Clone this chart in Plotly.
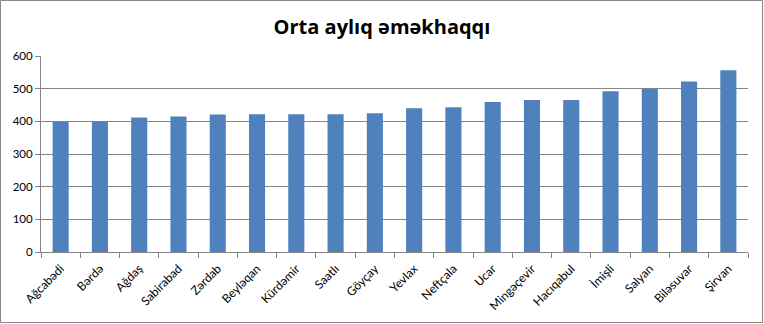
import plotly.graph_objects as go

categories = ["Ağcabədi", "Bərdə", "Ağdaş", "Sabirabad", "Zərdab", "Beyləqan",
              "Kürdəmir", "Saatlı", "Göyçay", "Yevlax", "Neftçala", "Ucar",
              "Mingəçevir", "Hacıqabul", "İmişli", "Salyan", "Biləsuvar", "Şirvan"]
values = [399, 400, 412, 415, 421, 422, 422, 422, 425, 440, 443, 459,
          465, 465, 492, 500, 522, 556]
y_ticks = [0, 100, 200, 300, 400, 500, 600]
title_text = "Orta aylıq əməkhaqqı"

W, H = 764, 324
ml, mr, mt, mb = 41, 16, 56, 72
pw, ph = W - ml - mr, H - mt - mb

fig = go.Figure(go.Bar(x=categories, y=values, marker=dict(color="#4F81BD", line=dict(width=0)),
                       width=0.41))

fig.update_layout(
    width=W, height=H,
    margin=dict(l=ml, r=mr, t=mt, b=mb),
    paper_bgcolor="white", plot_bgcolor="white",
    title=dict(text=f"<b>{title_text}</b>", x=0.5, xanchor="center", y=1 - 27 / H, yanchor="middle",
               font=dict(family="Open Sans", size=20, color="black")),
    showlegend=False,
    font=dict(family="Lato", size=10, color="black"),
    shapes=[dict(type="rect", xref="paper", yref="paper",
                 x0=-(ml - 0.5) / pw, x1=1 + (mr - 1.5) / pw,
                 y0=-(mb - 1.5) / ph, y1=1 + (mt - 0.5) / ph,
                 line=dict(color="#868686", width=1), layer="below")],
)
fig.update_xaxes(showline=True, linecolor="#868686", linewidth=1, ticks="outside",
                 tickson="boundaries", ticklen=5, tickcolor="#868686", tickangle=-45,
                 ticklabelstandoff=4,
                 showgrid=False, tickfont=dict(family="Lato", size=12))
fig.update_yaxes(range=[0, 600], tickvals=y_ticks, showline=True, linecolor="#868686", linewidth=1,
                 ticks="outside", ticklen=5, tickcolor="#868686", showgrid=True,
                 gridcolor="#868686", gridwidth=1, zeroline=False,
                 tickfont=dict(family="Lato", size=11.5))

fig.write_html("out.html")
